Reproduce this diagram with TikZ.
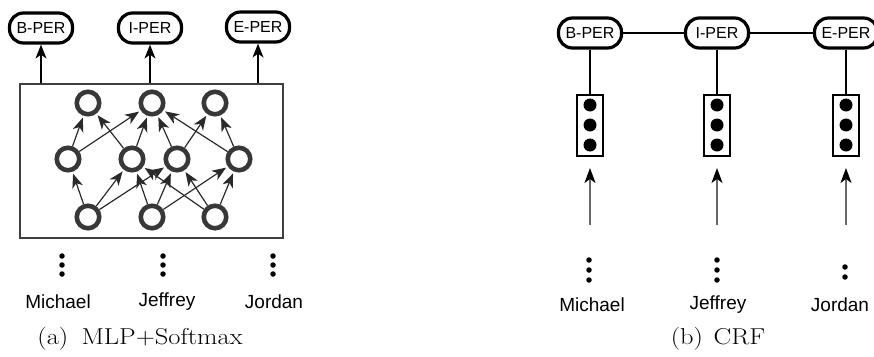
\documentclass[tikz,border=0pt]{standalone}
\usepackage{fontspec}
\usepackage{graphicx}
\newfontfamily\arialf{Liberation Sans}
\usetikzlibrary{arrows.meta}
\definecolor{ring}{HTML}{383838}
\definecolor{conn}{HTML}{2A2A2A}
\begin{document}
\begin{tikzpicture}[x=1pt,y=-1pt,
  lab/.style={draw=black,line width=3.2pt,rounded corners=14pt,minimum width=63pt,minimum height=30pt,inner sep=0pt,font=\arialf\fontsize{16}{18}\selectfont,fill=white},
  neuron/.style={circle,draw=ring,line width=4.6pt,minimum size=22.5pt,inner sep=0pt},
  bigbox/.style={draw=conn!90,line width=1.5pt,minimum width=263pt,minimum height=154pt,inner sep=0pt},
  nnarrow/.style={draw=conn,line width=1.2pt,-{Stealth[length=14pt,width=11pt,inset=4pt]},shorten >=2pt},
  uparrow/.style={draw=black,line width=1.4pt,-{Stealth[length=14pt,width=11pt,inset=4pt]}},
  inarrow/.style={draw=black!60,line width=1.5pt,-{Stealth[length=15pt,width=11pt,inset=4pt,color=black]}},
  vecbox/.style={draw=black,line width=2.8pt,minimum width=26pt,minimum height=61pt,inner sep=0pt},
  vecdot/.style={circle,fill=black,minimum size=13pt,inner sep=0pt},
  smalldot/.style={circle,fill=black,minimum size=5.5pt,inner sep=0pt},
  word/.style={font=\arialf\fontsize{19}{22}\selectfont,inner sep=0pt},
  capt/.style={font=\fontsize{23}{27}\selectfont,inner sep=0pt},
  crfline/.style={draw=black,line width=2.6pt}
]
\useasboundingbox (0,0) rectangle (874,356);

% ---------------- (a) MLP+Softmax ----------------
\node[lab] (la1) at (41,28) {B-PER};
\node[lab] (la2) at (150,28) {I-PER};
\node[lab] (la3) at (258,27) {E-PER};
\node[bigbox] (box) at (151.5,161) {};
\foreach \i in {1,2,3}{
  \draw[uparrow] (la\i |- box.north) -- (la\i.south);
}
\node[neuron] (t1) at (88,103) {};
\node[neuron] (t2) at (152,103) {};
\node[neuron] (t3) at (215,103) {};
\node[neuron] (h1) at (68,159) {};
\node[neuron] (h2) at (132,159) {};
\node[neuron] (h3) at (177,159) {};
\node[neuron] (h4) at (239,159) {};
\node[neuron] (b1) at (88,217) {};
\node[neuron] (b2) at (152,217) {};
\node[neuron] (b3) at (215,217) {};
\foreach \a/\b in {h1/t1,h1/t2,h2/t1,h2/t2,h3/t2,h3/t3,h4/t2,h4/t3,
                   b1/h1,b1/h2,b1/h3,b2/h2,b2/h3,b2/h4,b3/h2,b3/h3,b3/h4}{
  \draw[nnarrow] (\a) -- (\b);
}
\foreach \n/\x in {1/62,2/163,3/273}{
  \foreach \k/\y in {1/256,2/265,3/274}{
    \node[smalldot] (ldot\n\k) at (\x,\y) {};
  }
}
\node[word] (lw1) at (58,302) {Michael};
\node[word] (lw2) at (167,302) {Jeffrey};
\node[word] (lw3) at (274,302) {Jordan};
\node[capt] (capa) at (140,339) {\scalebox{1.15}[1]{(a)\hspace{0.5em}MLP+Softmax}};

% ---------------- (b) CRF ----------------
\node[lab] (r1) at (590,33) {B-PER};
\node[lab] (r2) at (717,33) {I-PER};
\node[lab] (r3) at (846,33) {E-PER};
\draw[crfline] (r1) -- (r2);
\draw[crfline] (r2) -- (r3);
\foreach \i/\x in {1/590,2/717,3/846}{
  \node[vecbox] (v\i) at (\x,125.5) {};
  \node[vecdot] (vd\i a) at (\x,105) {};
  \node[vecdot] (vd\i b) at (\x,125) {};
  \node[vecdot] (vd\i c) at (\x,145) {};
  \draw[crfline] (r\i) -- (v\i);
  \coordinate (as\i) at (\x,225);
  \coordinate (ae\i) at (\x,168);
  \draw[inarrow] (as\i) -- (ae\i);
}
\foreach \n/\x in {1/589,2/717}{
  \foreach \k/\y in {1/260,2/270,3/280}{
    \node[smalldot] (rdot\n\k) at (\x,\y) {};
  }
}
\node[smalldot] (rdot31) at (845,267) {};
\node[smalldot] (rdot32) at (845,277) {};
\node[word] (rw1) at (592,305) {Michael};
\node[word] (rw2) at (718,305) {Jeffrey};
\node[word] (rw3) at (840,305) {Jordan};
\node[capt] (capb) at (718,339) {\scalebox{1.15}[1]{(b)\hspace{0.4em}CRF}};
\end{tikzpicture}
\end{document}
